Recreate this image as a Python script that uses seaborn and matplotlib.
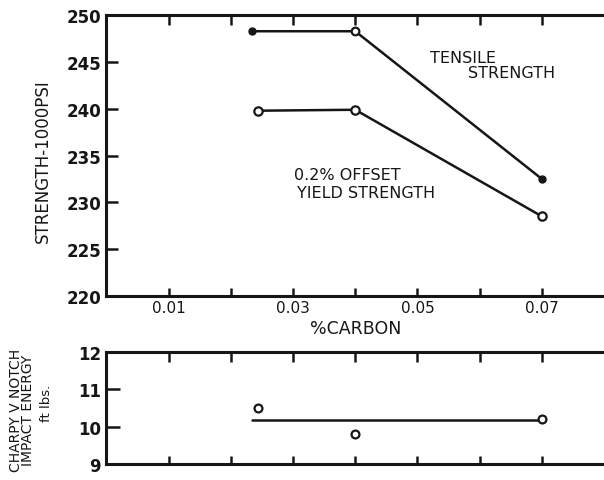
import matplotlib
matplotlib.use("Agg")
import matplotlib.pyplot as plt
import seaborn as sns
import pandas as pd

sns.set_theme(style="white")
plt.rcParams["font.family"] = ["DejaVu Sans"]

# Strength vs carbon content
carbon_tensile = [0.0234, 0.040, 0.070]
tensile = [248.3, 248.3, 232.5]
carbon_yield = [0.0243, 0.040, 0.070]
yield_strength = [239.8, 239.9, 228.5]

# Charpy V-notch impact energy
carbon_charpy = [0.0243, 0.040, 0.070]
charpy = [10.5, 9.8, 10.22]
charpy_fit_x = [0.0234, 0.070]
charpy_fit_y = [10.17, 10.17]

x_ticks = [0.01, 0.02, 0.03, 0.04, 0.05, 0.06, 0.07]
x_labels = ["0.01", "", "0.03", "", "0.05", "", "0.07"]
strength_ticks = [220, 225, 230, 235, 240, 245, 250]
charpy_ticks = [9, 10, 11, 12]

ink = "#161616"
lw = 1.8

fig = plt.figure(figsize=(6.04, 4.81), dpi=100)
ax1 = fig.add_axes([0.1763, 0.383, 0.8237, 0.583])
ax2 = fig.add_axes([0.1763, 0.033, 0.8237, 0.233])

df_t = pd.DataFrame({"c": carbon_tensile, "s": tensile})
df_y = pd.DataFrame({"c": carbon_yield, "s": yield_strength})
sns.lineplot(data=df_t, x="c", y="s", ax=ax1, color=ink, linewidth=lw)
sns.lineplot(data=df_y, x="c", y="s", ax=ax1, color=ink, linewidth=lw)
# tensile: solid end points, open middle point
ax1.plot([carbon_tensile[0], carbon_tensile[2]], [tensile[0], tensile[2]],
         linestyle="none", marker="o", markersize=5, color=ink)
ax1.plot([carbon_tensile[1]], [tensile[1]], linestyle="none", marker="o",
         markersize=5.5, markerfacecolor="white", markeredgecolor=ink, markeredgewidth=1.6)
sns.scatterplot(data=df_y, x="c", y="s", ax=ax1, s=36, facecolor="white",
                edgecolor=ink, linewidth=1.6, zorder=3)

ax1.set_xlim(0, 0.08)
ax1.set_ylim(220, 250)
ax1.set_xticks(x_ticks)
ax1.set_xticklabels(x_labels)
ax1.set_yticks(strength_ticks)
ax1.set_xlabel("%CARBON", fontsize=12.5, labelpad=3, color=ink)
ax1.set_ylabel("STRENGTH-1000PSI", fontsize=12, color=ink, va="center")
ax1.yaxis.set_label_coords(-0.1285, 0.4825)

note = dict(fontsize=11.5, color=ink, va="center")
ax1.text(0.0520, 245.5, "TENSILE", **note)
ax1.text(0.0581, 243.9, "STRENGTH", **note)
ax1.text(0.0301, 233.0, "0.2% OFFSET", **note)
ax1.text(0.0307, 231.1, "YIELD STRENGTH", **note)

df_c = pd.DataFrame({"c": carbon_charpy, "e": charpy})
df_f = pd.DataFrame({"c": charpy_fit_x, "e": charpy_fit_y})
sns.lineplot(data=df_f, x="c", y="e", ax=ax2, color=ink, linewidth=lw)
sns.scatterplot(data=df_c, x="c", y="e", ax=ax2, s=32, facecolor="white",
                edgecolor=ink, linewidth=1.6, zorder=3)
ax2.set_xlim(0, 0.08)
ax2.set_ylim(9, 12)
ax2.set_xticks(x_ticks)
ax2.set_xticklabels([])
ax2.set_yticks(charpy_ticks)
ax2.set_xlabel("")
ax2.set_ylabel("CHARPY V NOTCH\nIMPACT ENERGY", fontsize=10, color=ink,
               linespacing=0.85, va="center")
ax2.yaxis.set_label_coords(-0.1700, 0.49)
ax2.text(-0.1205, 0.553, "ft lbs.", transform=ax2.transAxes, rotation=90,
         fontsize=9.5, color=ink, ha="center", va="center")

for ax, ylen in ((ax1, 8.5), (ax2, 10)):
    for side in ("left", "top", "bottom"):
        ax.spines[side].set_linewidth(2.2)
        ax.spines[side].set_color(ink)
    ax.spines["right"].set_visible(False)
    ax.tick_params(axis="both", direction="in", width=1.8,
                   color=ink, labelcolor=ink)
    ax.tick_params(axis="x", top=True, bottom=True, pad=3, labelsize=11)
    ax.tick_params(axis="y", left=True, right=False, length=ylen, pad=4,
                   labelsize=12)
    for lab in ax.get_yticklabels():
        lab.set_fontweight("bold")
    for t in ax.xaxis.get_major_ticks():
        t.tick1line.set_markersize(5.5)
        t.tick2line.set_markersize(7)
    ax.set_facecolor("white")

fig.savefig("out.png", dpi=100, facecolor="white")
